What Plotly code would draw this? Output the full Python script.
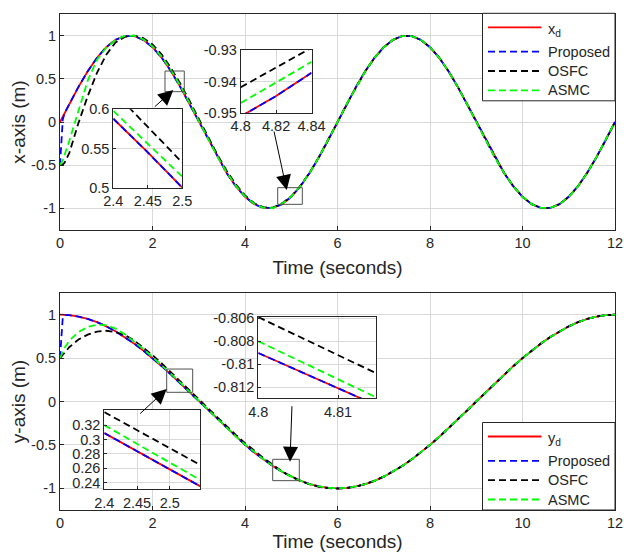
import plotly.graph_objects as go

# ---------------- data ----------------
t = [0, 0.03, 0.06, 0.1,
     0.2, 0.4, 0.6, 0.8, 1.0, 1.2, 1.4, 1.6, 1.8, 2.0, 2.2, 2.4, 2.6, 2.8, 3.0,
     3.2, 3.4, 3.6, 3.8, 4.0, 4.2, 4.4, 4.6, 4.8, 5.0, 5.2, 5.4, 5.6, 5.8, 6.0,
     6.2, 6.4, 6.6, 6.8, 7.0, 7.2, 7.4, 7.6, 7.8, 8.0, 8.2, 8.4, 8.6, 8.8, 9.0,
     9.2, 9.4, 9.6, 9.8, 10.0, 10.2, 10.4, 10.6, 10.8, 11.0, 11.2, 11.4, 11.6, 11.8, 12.0]

x_d = [0, 0.031, 0.063, 0.105,
       0.208, 0.407, 0.588, 0.743, 0.866, 0.951, 0.995, 0.995, 0.951, 0.866, 0.743, 0.588, 0.407, 0.208, 0.0,
       -0.208, -0.407, -0.588, -0.743, -0.866, -0.951, -0.995, -0.995, -0.951, -0.866, -0.743, -0.588, -0.407, -0.208, 0.0,
       0.208, 0.407, 0.588, 0.743, 0.866, 0.951, 0.995, 0.995, 0.951, 0.866, 0.743, 0.588, 0.407, 0.208, 0.0,
       -0.208, -0.407, -0.588, -0.743, -0.866, -0.951, -0.995, -0.995, -0.951, -0.866, -0.743, -0.588, -0.407, -0.208, 0.0]
prop_x = [-0.5, -0.22, 0.03, 0.105] + x_d[4:]
osfc_x = [-0.5, -0.495, -0.49, -0.47,
          -0.36, -0.01, 0.30, 0.57, 0.78, 0.92, 0.985, 1.0, 0.972, 0.898, 0.781, 0.623, 0.445, 0.246, 0.037,
          -0.173, -0.376, -0.561, -0.721, -0.849, -0.940, -0.988, -0.991, -0.942, -0.859, -0.737, -0.584, -0.404, -0.207, 0.001] + x_d[34:]
asmc_x = [-0.5, -0.47, -0.44, -0.38,
          -0.22, 0.13, 0.48, 0.72, 0.86, 0.95, 0.996, 0.998, 0.958, 0.875, 0.754, 0.600, 0.420, 0.220, 0.012,
          -0.197, -0.397, -0.580, -0.737, -0.861, -0.947, -0.993, -0.996, -0.947, -0.863, -0.741, -0.587, -0.406, -0.208, 0.0] + x_d[34:]

y_d = [1.0, 1.0, 0.9995, 0.9986,
       0.9945, 0.9781, 0.9511, 0.9135, 0.866, 0.809, 0.7431, 0.6691, 0.5878, 0.5, 0.4067, 0.309, 0.2079, 0.1045, 0.0,
       -0.1045, -0.2079, -0.309, -0.4067, -0.5, -0.5878, -0.6691, -0.7431, -0.809, -0.866, -0.9135, -0.9511, -0.9781, -0.9945, -1.0,
       -0.9945, -0.9781, -0.9511, -0.9135, -0.866, -0.809, -0.7431, -0.6691, -0.5878, -0.5, -0.4067, -0.309, -0.2079, -0.1045, 0.0,
       0.1045, 0.2079, 0.309, 0.4067, 0.5, 0.5878, 0.6691, 0.7431, 0.809, 0.866, 0.9135, 0.9511, 0.9781, 0.9945, 1.0]
prop_y = [0.5, 0.8, 0.97, 0.998] + y_d[4:]
osfc_y = [0.5, 0.52, 0.54, 0.565,
          0.625, 0.715, 0.77, 0.805, 0.815, 0.80, 0.765, 0.705, 0.625, 0.535, 0.438, 0.338, 0.236, 0.132, 0.027,
          -0.078, -0.183, -0.285, -0.384, -0.479, -0.568, -0.651, -0.728, -0.806, -0.866, -0.916, -0.955, -0.983, -0.999, -1.004,
          -0.998, -0.981] + y_d[36:]
asmc_y = [0.5, 0.54, 0.58, 0.62,
          0.70, 0.80, 0.86, 0.885, 0.88, 0.84, 0.775, 0.695, 0.605, 0.513, 0.418, 0.320, 0.218, 0.113, 0.008,
          -0.097, -0.201, -0.303, -0.401, -0.495, -0.583, -0.665, -0.740, -0.808, -0.865, -0.913, -0.951, -0.978, -0.995, -1.0] + y_d[34:]

# zoomed-in insets
tx1 = [2.40, 2.45, 2.50]
tx1_d = [0.588, 0.545, 0.500]
tx1_osfc = [0.623, 0.578, 0.532]
tx1_asmc = [0.598, 0.556, 0.514]

tx2 = [4.80, 4.82, 4.84]
tx2_d = [-0.9511, -0.9446, -0.9372]
tx2_osfc = [-0.9418, -0.9355, -0.9292]
tx2_asmc = [-0.9468, -0.9402, -0.9337]

ty1 = [2.40, 2.45, 2.50, 2.55]
ty1_d = [0.309, 0.284, 0.2588, 0.2334]
ty1_osfc = [0.338, 0.313, 0.288, 0.263]
ty1_asmc = [0.320, 0.294, 0.268, 0.242]

ty2 = [4.800, 4.805, 4.810, 4.815]
ty2_d = [-0.80902, -0.81056, -0.81209, -0.81362]
ty2_osfc = [-0.8059, -0.80755, -0.8092, -0.81085]
ty2_asmc = [-0.8080, -0.80965, -0.8113, -0.81295]

time_ticks = [0, 2, 4, 6, 8, 10, 12]
main_y_ticks = [-1, -0.5, 0, 0.5, 1]
main_y_text = ["-1", "-0.5", "0", "0.5", "1"]

legend_top = ['x<sub>d</sub>', 'Proposed', 'OSFC', 'ASMC']
legend_bot = ['y<sub>d</sub>', 'Proposed', 'OSFC', 'ASMC']

# ---------------- style ----------------
W, H = 624, 552
TXT = '#262626'
FONT = 'Liberation Sans, Arial, sans-serif'
RED, BLUE, BLACK, GREEN = '#ff0000', '#0000ff', '#000000', '#00ff00'
COLORS = [RED, BLUE, BLACK, GREEN]
DASH = '7px,4px'
LW = 1.8
TICK_FS = 14.5


def dx(p):
    return p / W


def dy(p):
    return 1 - p / H


fig = go.Figure()


def add_set(tt, d, p, o, a, xa, ya, dname):
    kw = dict(xaxis=xa, yaxis=ya, mode='lines', hoverinfo='skip', showlegend=False)
    fig.add_trace(go.Scatter(x=tt, y=d, name=dname, line=dict(color=RED, width=LW), **kw))
    fig.add_trace(go.Scatter(x=tt, y=(p if p is not None else d), name='Proposed',
                             line=dict(color=BLUE, width=LW, dash=DASH), **kw))
    fig.add_trace(go.Scatter(x=tt, y=o, name='OSFC', line=dict(color=BLACK, width=LW, dash=DASH), **kw))
    fig.add_trace(go.Scatter(x=tt, y=a, name='ASMC', line=dict(color=GREEN, width=LW, dash=DASH), **kw))


add_set(t, x_d, prop_x, osfc_x, asmc_x, 'x', 'y', 'x_d')
add_set(t, y_d, prop_y, osfc_y, asmc_y, 'x2', 'y2', 'y_d')
add_set(tx1, tx1_d, None, tx1_osfc, tx1_asmc, 'x3', 'y3', 'x_d')
add_set(tx2, tx2_d, None, tx2_osfc, tx2_asmc, 'x4', 'y4', 'x_d')
add_set(ty1, ty1_d, None, ty1_osfc, ty1_asmc, 'x5', 'y5', 'y_d')
add_set(ty2, ty2_d, None, ty2_osfc, ty2_asmc, 'x6', 'y6', 'y_d')


def axis(domain, rng, anchor, tickvals, ticktext=None, title=None, standoff=None, ticklen=4):
    d = dict(domain=domain, range=rng, anchor=anchor, showline=True, linecolor=TXT, linewidth=1,
             mirror=True, ticks='inside', ticklen=ticklen, tickcolor=TXT, showgrid=True,
             gridcolor='#d9d9d9', gridwidth=1, zeroline=False, tickvals=tickvals,
             tickfont=dict(size=TICK_FS, color=TXT, family=FONT), automargin=False)
    if ticktext is not None:
        d['ticktext'] = ticktext
    if title:
        d['title'] = dict(text=title, font=dict(size=19, color=TXT, family=FONT))
        if standoff is not None:
            d['title']['standoff'] = standoff
    return d


top_x = [dx(60), dx(615)]
top_y = [dy(230), dy(14)]
bot_y = [dy(510), dy(293)]
YR = [-1.25, 1.25]

layout = dict(
    width=W, height=H, margin=dict(l=0, r=0, t=0, b=0),
    paper_bgcolor='white', plot_bgcolor='white', showlegend=False,
    font=dict(family=FONT, color=TXT, size=14),
    xaxis=axis(top_x, [0, 12], 'y', time_ticks, title='Time (seconds)', standoff=10),
    yaxis=axis(top_y, YR, 'x', main_y_ticks, main_y_text, title='x-axis (m)', standoff=0),
    xaxis2=axis(top_x, [0, 12], 'y2', time_ticks, title='Time (seconds)', standoff=10),
    yaxis2=axis(bot_y, YR, 'x2', main_y_ticks, main_y_text, title='y-axis (m)', standoff=0),
    xaxis3=axis([dx(113.3), dx(182.3)], [2.4, 2.5], 'y3', [2.4, 2.45, 2.5], ['2.4', '2.45', '2.5'], ticklen=3),
    yaxis3=axis([dy(187.7), dy(109.3)], [0.5, 0.6], 'x3', [0.5, 0.55, 0.6], ['0.5', '0.55', '0.6'], ticklen=3),
    xaxis4=axis([dx(240.7), dx(311.5)], [4.8, 4.84], 'y4', [4.8, 4.82, 4.84], ['4.8', '4.82', '4.84'], ticklen=3),
    yaxis4=axis([dy(113), dy(50.3)], [-0.95, -0.93], 'x4', [-0.95, -0.94, -0.93], ['-0.95', '-0.94', '-0.93'], ticklen=3),
    xaxis5=axis([dx(104.3), dx(200)], [2.4, 2.546], 'y5', [2.4, 2.45, 2.5], ['2.4', '2.45', '2.5'], ticklen=3),
    yaxis5=axis([dy(489.3), dy(410)], [0.231, 0.341], 'x5', [0.24, 0.26, 0.28, 0.30, 0.32],
                ['0.24', '0.26', '0.28', '0.3', '0.32'], ticklen=3),
    xaxis6=axis([dx(258.3), dx(376.3)], [4.8, 4.8148], 'y6', [4.8, 4.81], ['4.8', '4.81'], ticklen=3),
    yaxis6=axis([dy(398.3), dy(316.7)], [-0.81296, -0.80586], 'x6', [-0.812, -0.81, -0.808, -0.806],
                ['-0.812', '-0.81', '-0.808', '-0.806'], ticklen=3),
)
fig.update_layout(**layout)

# zoom-window rectangles on the main axes
rects = [
    ('x', 'y', 2.27, 2.687, 0.351, 0.590),
    ('x', 'y', 4.707, 5.239, -0.953, -0.760),
    ('x2', 'y2', 2.307, 2.869, 0.106, 0.374),
    ('x2', 'y2', 4.599, 5.174, -0.912, -0.666),
]
for xr, yr, x0, x1, y0, y1 in rects:
    fig.add_shape(type='rect', xref=xr, yref=yr, x0=x0, x1=x1, y0=y0, y1=y1,
                  line=dict(color='#505050', width=1), fillcolor='rgba(0,0,0,0)', layer='above')

arrows = [
    ('x', 'y', 2.45, 0.37, -20, 18),
    ('x', 'y', 4.902, -0.787, -13, -60),
    ('x2', 'y2', 2.307, 0.144, -28, 26),
    ('x2', 'y2', 4.973, -0.694, 2, -57),
]
for xr, yr, xx, yy, ax, ay in arrows:
    fig.add_annotation(x=xx, y=yy, xref=xr, yref=yr, ax=ax, ay=ay, axref='pixel', ayref='pixel',
                       text='', showarrow=True, arrowhead=2, arrowsize=3, arrowwidth=1,
                       arrowcolor='black')


# legends (boxed, top-right of upper plot and bottom-right of lower plot)
def draw_legend(box_top, labels):
    fig.add_shape(type='rect', xref='paper', yref='paper', x0=dx(482.5), x1=dx(615),
                  y0=dy(box_top + 87.5), y1=dy(box_top), line=dict(color=TXT, width=1),
                  fillcolor='white', layer='above')
    offs = [14, 38.4, 57.7, 77]
    for i, (lab, col) in enumerate(zip(labels, COLORS)):
        yy = box_top + offs[i]
        fig.add_shape(type='line', xref='paper', yref='paper', x0=dx(488), x1=dx(541.5),
                      y0=dy(yy), y1=dy(yy), layer='above',
                      line=dict(color=col, width=LW, dash=None if i == 0 else DASH))
        fig.add_annotation(x=dx(546), y=dy(yy + (2.5 if i == 0 else 0)), xref='paper', yref='paper',
                           text=lab, showarrow=False, xanchor='left', yanchor='middle',
                           font=dict(size=14.5, color=TXT, family=FONT))


draw_legend(13.3, legend_top)
draw_legend(422.5, legend_bot)

fig.write_html('out.html')
